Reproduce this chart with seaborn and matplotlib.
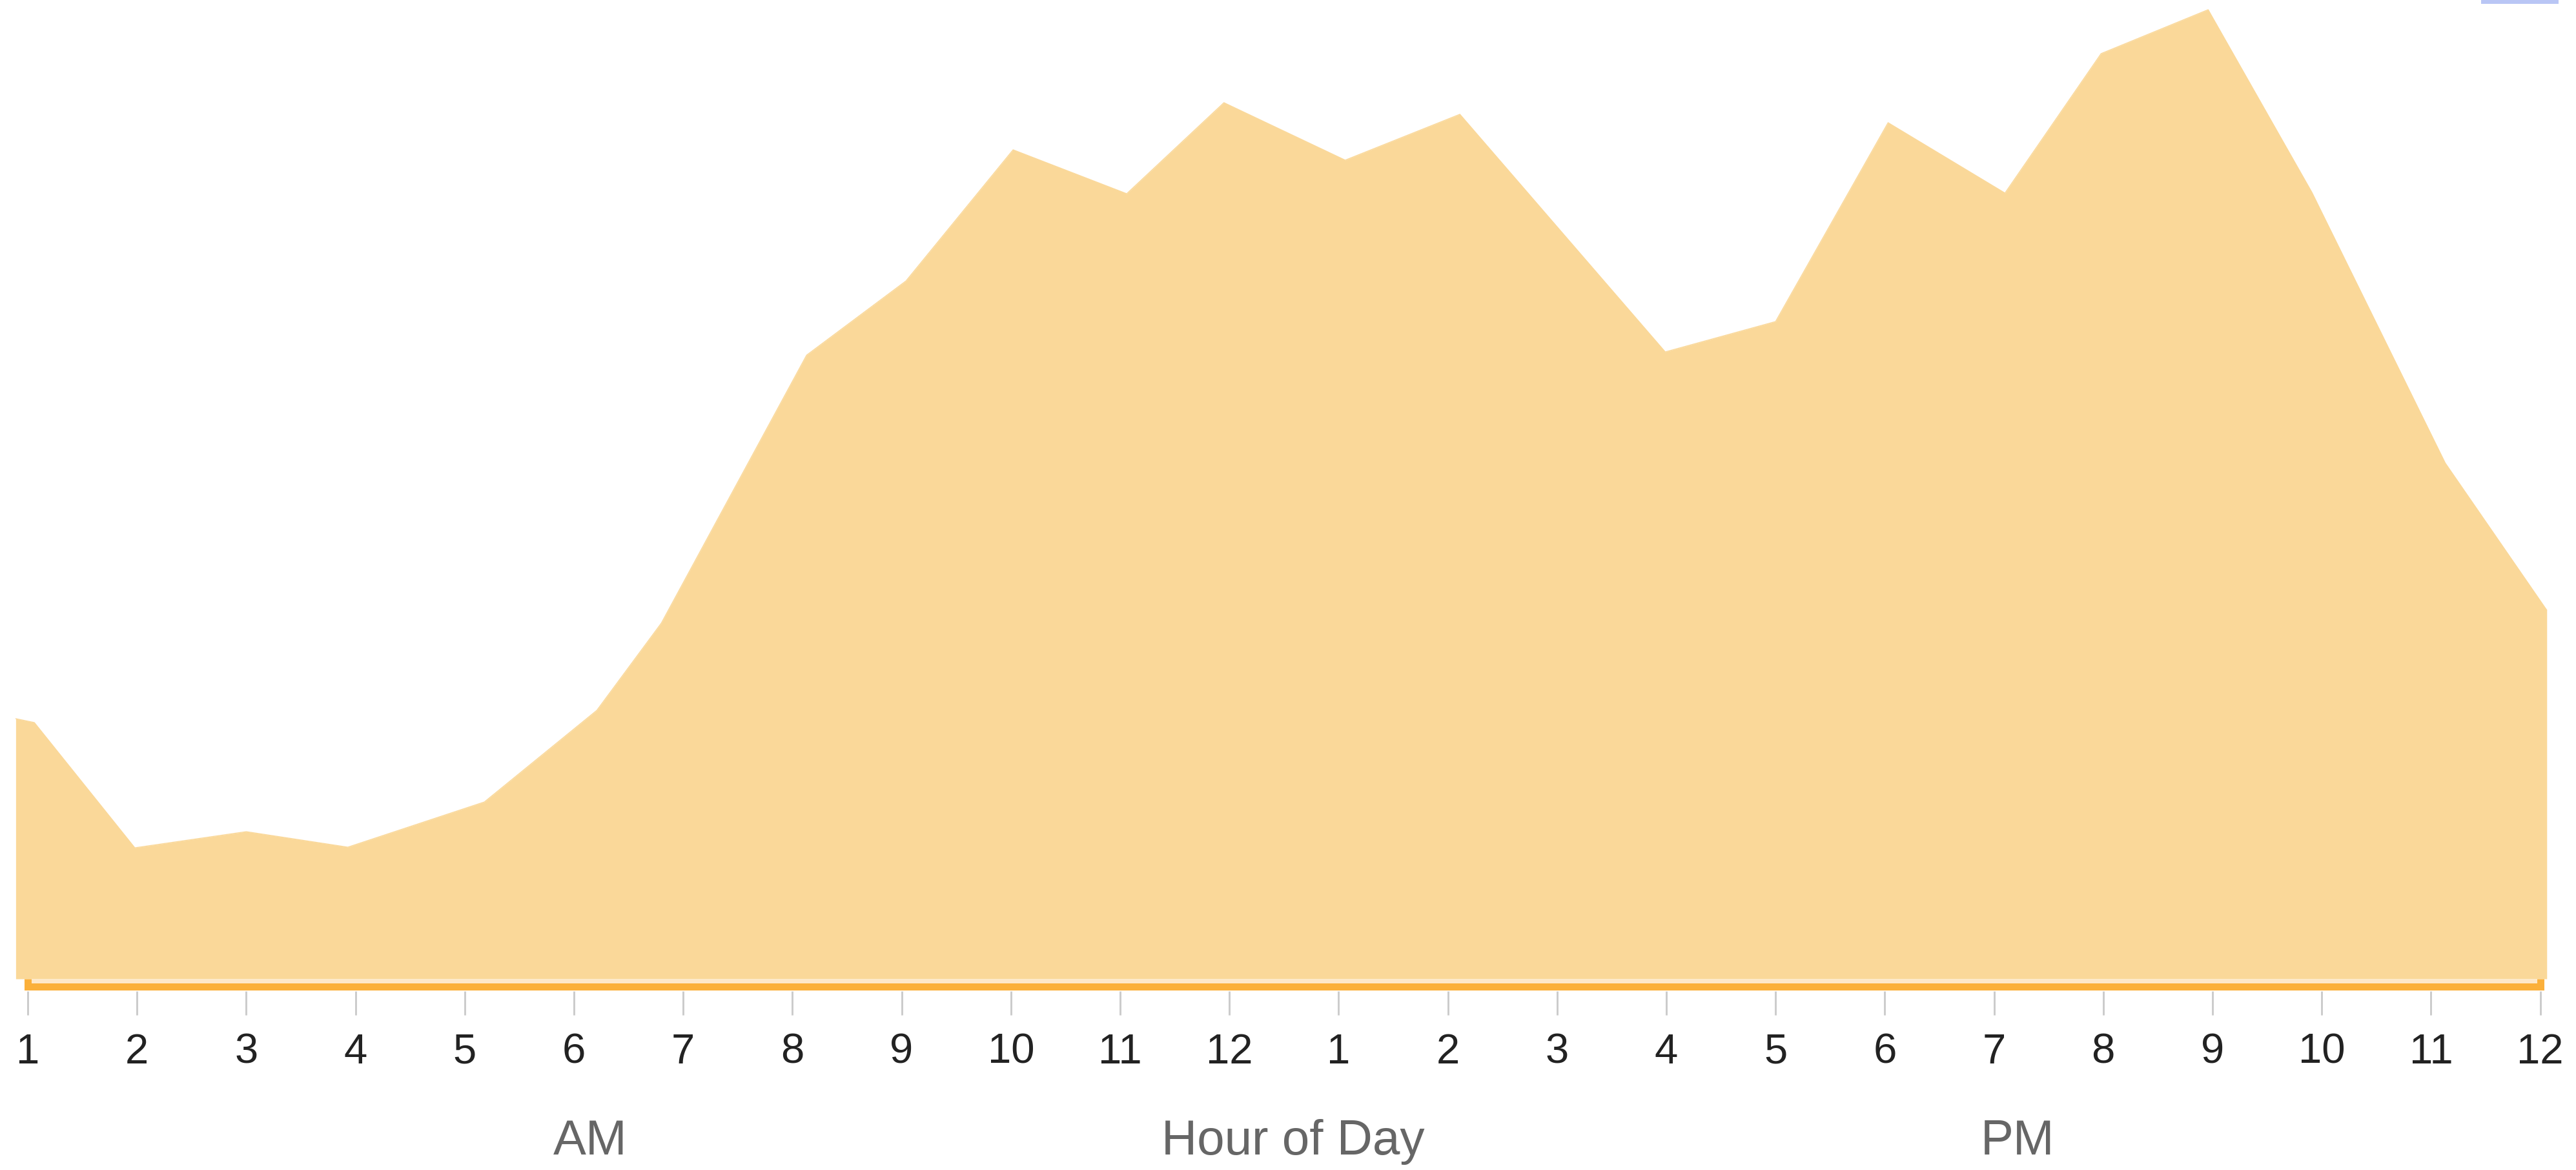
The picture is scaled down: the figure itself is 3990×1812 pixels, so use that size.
import matplotlib
matplotlib.use("Agg")
import matplotlib.pyplot as plt
from matplotlib.patches import Rectangle
import seaborn as sns
import pandas as pd

# Activity over the day; hour 1 = 1 AM ... 12 = noon ... 24 = midnight
hour = [0.89, 1.06, 1.98, 3.00, 3.93, 5.18, 6.21, 6.80, 8.13, 9.04, 10.02, 11.06,
        11.95, 13.06, 14.11, 15.99, 17.00, 18.03, 19.10, 19.98, 20.96, 21.91, 23.13, 24.06]
activity = [403, 397, 203, 228, 204, 274, 416, 551, 966, 1081, 1284, 1216,
            1357, 1268, 1339, 971, 1018, 1326, 1217, 1433, 1501, 1218, 799, 571]

tick_hours = list(range(1, 25))
tick_labels = ["1", "2", "3", "4", "5", "6", "7", "8", "9", "10", "11", "12",
               "1", "2", "3", "4", "5", "6", "7", "8", "9", "10", "11", "12"]
period_labels = ["AM", "Hour of Day", "PM"]

df = pd.DataFrame({"hour": hour, "activity": activity})

sns.set_theme(style="white")
plt.rcParams["font.family"] = ["Liberation Sans", "DejaVu Sans"]

W, H = 3991, 1812
fig = plt.figure(figsize=(W / 100, H / 100), dpi=100)
fig.patch.set_facecolor("white")

# axes covers the top 1535 px of the figure, one data unit per pixel vertically
ax = fig.add_axes([0, 1 - 1535 / H, 1, 1535 / H])
ax.set_facecolor("white")

fill_color = "#FAD899"
line_color = "#FBB03B"

ax.fill_between(df["hour"], 0, df["activity"], color=fill_color, lw=0, zorder=1)
sns.lineplot(data=df, x="hour", y="activity", ax=ax, color=fill_color,
             lw=1, zorder=2, sort=False)

# range bar under the area
ax.fill_between([1, 24], -1, -6.5, color="#FEE8CA", lw=0, zorder=1)
ax.plot([1, 1, 24, 24], [0, -12, -12, 0], color=line_color, lw=11 * 0.72,
        solid_capstyle="butt", solid_joinstyle="miter", zorder=3)

x0 = 1 - 43 / 169.2
x1 = 1 + (W - 43) / 169.2
ax.set_xlim(x0, x1)
ax.set_ylim(-19, 1516)

for s in ax.spines.values():
    s.set_visible(False)

ax.set_yticks([])
ax.set_xticks(tick_hours)
ax.set_xticklabels(tick_labels)
ax.tick_params(axis="x", direction="out", length=37 * 0.72, width=3 * 0.72,
               color="#CCCCCC", pad=20, labelsize=47, labelcolor="#222222",
               bottom=True)
ax.set_xlabel("")
ax.set_ylabel("")

# period captions under the tick labels
for label, xpix in zip(period_labels, [914, 2003, 3125]):
    fig.text(xpix / W, 1 - 1788 / H, label, ha="center", va="baseline",
             fontsize=55, color="#666666")

# small blue marker at the top-right edge
fig.patches.append(Rectangle((3843 / W, 1 - 6 / H), 120 / W, 6 / H,
                             transform=fig.transFigure, color="#B9C6F5", lw=0))

fig.savefig("out.png", dpi=100, facecolor="white")
